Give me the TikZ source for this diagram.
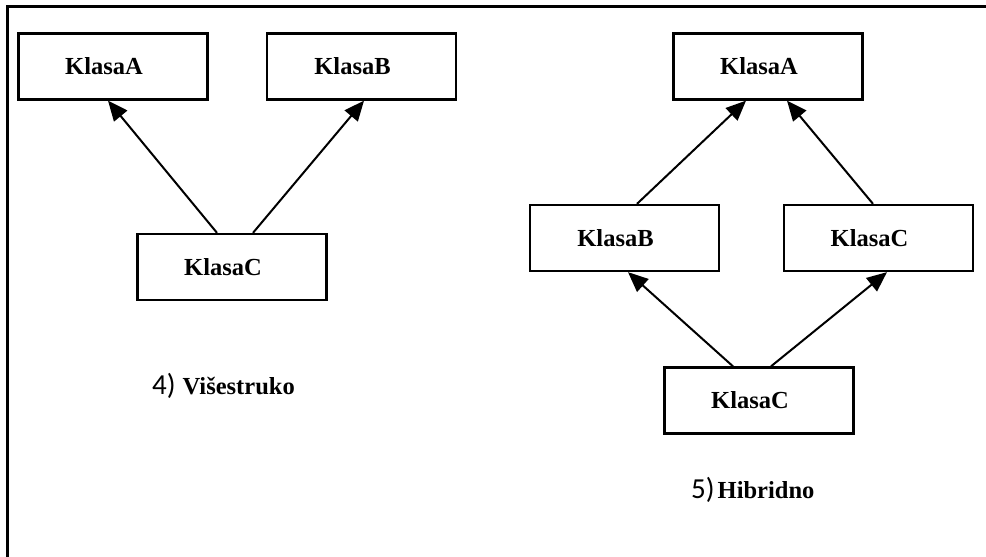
\documentclass[tikz,border=0pt]{standalone}
\usepackage{fontspec}
\setmainfont{Liberation Serif}
\newfontfamily\numfont{Carlito}
\usetikzlibrary{arrows.meta}

\tikzset{
  klasa/.style={draw=black, line width=2.3pt, minimum width=189pt,
    minimum height=66pt, inner sep=0pt,
    font=\bfseries\fontsize{24.5}{24.5}\selectfont,
    execute at begin node=\hspace*{-18pt}},
  inherit/.style={draw=black, line width=2pt,
    -{Triangle[length=20pt,width=17pt]}},
  caption/.style={anchor=base west, inner sep=0pt},
  frame/.style={line width=3pt}
}

\begin{document}
\begin{tikzpicture}[x=1pt,y=-1pt]
  \useasboundingbox (0,0) rectangle (986,557);

  % outer frame (top and left edges)
  \draw[frame] (7,557) -- (7,6.5) -- (986,6.5);

  % multiple inheritance
  \node[klasa] (mA) at (113,66.5)   {KlasaA};
  \node[klasa] (mB) at (361.5,66.5) {KlasaB};
  \node[klasa] (mC) at (232,267)    {KlasaC};

  \draw[inherit] ([xshift=-15pt]mC.north) -- ([xshift=-5pt]mA.south);
  \draw[inherit] ([xshift=21pt]mC.north)  -- ([xshift=2.5pt]mB.south);

  \node[caption] (capM) at (152,394)
    {{\numfont\fontsize{29}{29}\selectfont 4)}\hspace{7pt}{\bfseries\fontsize{24.5}{24.5}\selectfont Višestruko}};

  % hybrid inheritance
  \node[klasa] (hA)  at (768,66.5)   {KlasaA};
  \node[klasa] (hB)  at (624.5,238)  {KlasaB};
  \node[klasa] (hC)  at (878.5,238)  {KlasaC};
  \node[klasa] (hC2) at (759,400.5)  {KlasaC};

  \draw[inherit] ([xshift=12.5pt]hB.north) -- ([xshift=-22pt]hA.south);
  \draw[inherit] ([xshift=-5.5pt]hC.north) -- ([xshift=19pt]hA.south);
  \draw[inherit] ([xshift=-26pt]hC2.north) -- ([xshift=3.5pt]hB.south);
  \draw[inherit] ([xshift=12pt]hC2.north)  -- ([xshift=8.5pt]hC.south);

  \node[caption] (capH) at (691,498)
    {{\numfont\fontsize{29}{29}\selectfont 5)}\hspace{3pt}{\bfseries\fontsize{24.5}{24.5}\selectfont Hibridno}};
\end{tikzpicture}
\end{document}
